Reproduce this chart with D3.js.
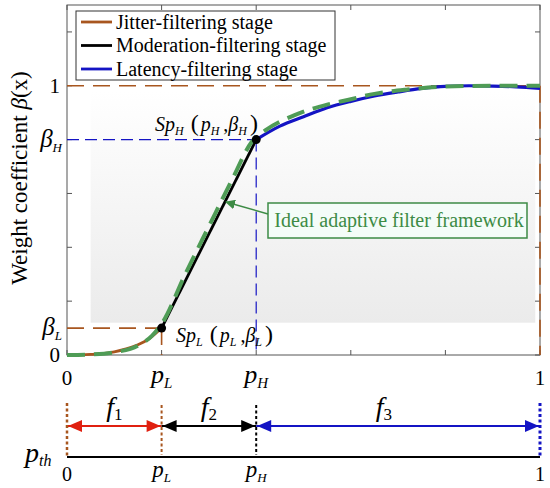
<!DOCTYPE html>
<html><head><meta charset="utf-8">
<script src="https://cdn.jsdelivr.net/npm/d3@7"></script>
<style>body{margin:0;background:#fff}svg{display:block}</style>
</head><body><svg id="c" width="550" height="488"></svg>
<script>
// ---- data ----
const pL = 0.2, pH = 0.4, betaL = 0.1, betaH = 0.8;
const jitterX = [0, 0.025, 0.05, 0.075, 0.1, 0.125, 0.15, 0.175, 0.2];
const jitterY = [0, 0.0005, 0.002, 0.005, 0.012, 0.023, 0.038, 0.062, 0.1];
const moderationX = [0.2, 0.4];
const moderationY = [0.1, 0.8];
const latencyX = [0.4, 0.45, 0.5, 0.55, 0.6, 0.65, 0.7, 0.75, 0.8, 0.85, 0.9, 0.95, 1.0];
const latencyY = [0.8, 0.85, 0.885, 0.918, 0.942, 0.962, 0.977, 0.99, 0.998, 1.0, 0.999, 0.996, 0.99];
const idealX = [0, 0.05, 0.1, 0.15, 0.18, 0.2, 0.25, 0.3, 0.35, 0.39, 0.42, 0.48, 0.55, 0.6, 0.65, 0.72, 0.8, 0.9, 1.0];
const idealY = [0, 0.002, 0.01, 0.035, 0.072, 0.115, 0.3, 0.478, 0.655, 0.79, 0.835, 0.89, 0.93, 0.95, 0.97, 0.986, 0.997, 1.0, 1.0];
const yTicks = [0, 0.2, 0.4, 0.6, 0.8, 1.0, 1.2];
const xTicks = [0, 0.2, 0.4, 0.6, 0.8, 1.0];
const legendNames = ["Jitter-filtering stage", "Moderation-filtering stage", "Latency-filtering stage"];

const brown = "#a8561f", blue = "#1414c4", green = "#4f9c56", red = "#e02010";
const svg = d3.select("#c");
const x = d3.scaleLinear().domain([0, 1]).range([67, 540]);
const y = d3.scaleLinear().domain([0, 1.3]).range([355, 5]);

// gradient background
const defs = svg.append("defs");
const gr = defs.append("linearGradient").attr("id", "g").attr("x1", 0).attr("y1", 0).attr("x2", 0).attr("y2", 1);
gr.append("stop").attr("offset", "0%").attr("stop-color", "#ffffff");
gr.append("stop").attr("offset", "100%").attr("stop-color", "#ebebeb");
svg.append("rect").attr("x", x(0.05)).attr("y", y(0.98)).attr("width", x(0.99) - x(0.05)).attr("height", y(0.12) - y(0.98)).attr("fill", "url(#g)");

// frame & ticks
svg.append("rect").attr("x", x(0)).attr("y", y(1.3)).attr("width", x(1) - x(0)).attr("height", y(0) - y(1.3)).attr("fill", "none").attr("stroke", "#555").attr("stroke-width", 1);
const tk = svg.append("g").attr("stroke", "#555").attr("stroke-width", 1);
xTicks.forEach(t => {
  tk.append("line").attr("x1", x(t)).attr("x2", x(t)).attr("y1", y(0)).attr("y2", y(0) - 5);
  tk.append("line").attr("x1", x(t)).attr("x2", x(t)).attr("y1", y(1.3)).attr("y2", y(1.3) + 5);
});
yTicks.forEach(t => {
  tk.append("line").attr("x1", x(0)).attr("x2", x(0) + 5).attr("y1", y(t)).attr("y2", y(t));
  tk.append("line").attr("x1", x(1)).attr("x2", x(1) - 5).attr("y1", y(t)).attr("y2", y(t));
});

// reference dashed lines
const dl = (x1, y1, x2, y2, c, w, da) => svg.append("line").attr("x1", x(x1)).attr("y1", y(y1)).attr("x2", x(x2)).attr("y2", y(y2)).attr("stroke", c).attr("stroke-width", w).attr("stroke-dasharray", da);
dl(0, 1, 1, 1, brown, 1.6, "17,9");
dl(1, 1, 1, 0, brown, 1.6, "17,9");
dl(0, betaL, pL, betaL, brown, 1.6, "17,9");
dl(pL, betaL, pL, 0, brown, 1.6, "17,9");
dl(0, betaH, pH, betaH, blue, 1.2, "12,6");
dl(pH, betaH, pH, 0, blue, 1.2, "12,6");

// curves
const line = d3.line().x(d => x(d[0])).y(d => y(d[1])).curve(d3.curveMonotoneX);
const zip = (a, b) => a.map((v, i) => [v, b[i]]);
svg.append("path").attr("d", line(zip(jitterX, jitterY))).attr("fill", "none").attr("stroke", brown).attr("stroke-width", 2.8);
svg.append("path").attr("d", line(zip(moderationX, moderationY))).attr("fill", "none").attr("stroke", "#000").attr("stroke-width", 2.8);
svg.append("path").attr("d", line(zip(latencyX, latencyY))).attr("fill", "none").attr("stroke", blue).attr("stroke-width", 3.2);
svg.append("path").attr("d", line(zip(idealX, idealY))).attr("fill", "none").attr("stroke", green).attr("stroke-width", 4).attr("stroke-dasharray", "18,9");

// points
[[pL, betaL], [pH, betaH]].forEach(p => svg.append("circle").attr("cx", x(p[0])).attr("cy", y(p[1])).attr("r", 4.5).attr("fill", "#000"));

// point labels
function spLabel(px, py, sub) {
  const t = svg.append("text").attr("x", px).attr("y", py).attr("font-size", 20).attr("fill", "#000");
  t.append("tspan").attr("font-style", "italic").text("Sp");
  t.append("tspan").attr("font-style", "italic").attr("font-size", 12).attr("dy", 4).text(sub);
  t.append("tspan").attr("dy", -4).attr("dx", 7).attr("font-size", 24).text("(");
  t.append("tspan").attr("font-style", "italic").attr("dx", 2).text("p");
  t.append("tspan").attr("font-style", "italic").attr("font-size", 12).attr("dy", 4).text(sub);
  t.append("tspan").attr("dy", -4).attr("dx", 4).text(",");
  t.append("tspan").attr("font-style", "italic").text("β");
  t.append("tspan").attr("font-style", "italic").attr("font-size", 12).attr("dy", 4).text(sub);
  t.append("tspan").attr("dy", -4).attr("dx", 3).attr("font-size", 24).text(")");
}
spLabel(155, 131, "H");
spLabel(176, 342, "L");

// legend
svg.append("rect").attr("x", 76).attr("y", 11).attr("width", 259).attr("height", 69).attr("fill", "#fff").attr("stroke", "#333").attr("stroke-width", 1);
const lc = [brown, "#000", blue];
legendNames.forEach((n, i) => {
  const ly = 22 + i * 23.5;
  svg.append("line").attr("x1", 81).attr("x2", 112).attr("y1", ly).attr("y2", ly).attr("stroke", lc[i]).attr("stroke-width", 2.8);
  svg.append("text").attr("x", 116).attr("y", ly + 6.5).attr("font-size", 20).attr("fill", "#000").text(n);
});

// annotation
defs.append("marker").attr("id", "ga").attr("viewBox", "0 0 10 10").attr("refX", 9).attr("refY", 5).attr("markerWidth", 10).attr("markerHeight", 10).attr("markerUnits", "userSpaceOnUse").attr("orient", "auto")
  .append("path").attr("d", "M0,0L10,5L0,10z").attr("fill", "#3d8b45");
svg.append("line").attr("x1", 268).attr("y1", 214).attr("x2", 226).attr("y2", 202).attr("stroke", "#3d8b45").attr("stroke-width", 1.5).attr("marker-end", "url(#ga)");
svg.append("rect").attr("x", 268).attr("y", 203).attr("width", 259).attr("height", 35).attr("fill", "#f4fcf8").attr("stroke", "#3d8b45").attr("stroke-width", 1.5);
svg.append("text").attr("x", 399).attr("y", 227).attr("text-anchor", "middle").attr("font-size", 20).attr("fill", "#3d8b45").text("Ideal adaptive filter framework");

// y axis label
const yl = svg.append("text").attr("transform", "translate(27,178) rotate(-90)").attr("text-anchor", "middle").attr("font-size", 23).attr("fill", "#000");
yl.append("tspan").text("Weight coefficient ");
yl.append("tspan").attr("font-style", "italic").text("β");
yl.append("tspan").text("(x)");

// y tick labels
const yLab = (v, main, sub) => {
  const t = svg.append("text").attr("x", 60).attr("y", y(v) + 7).attr("text-anchor", "end").attr("font-size", 21).attr("fill", "#000");
  if (sub) {
    t.attr("x", 62);
    t.append("tspan").attr("font-style", "italic").attr("font-size", 25).text(main);
    t.append("tspan").attr("font-style", "italic").attr("font-size", 13).attr("dy", 5).text(sub);
  } else t.text(main);
};
yLab(0, "0"); yLab(1, "1"); yLab(betaH, "β", "H"); yLab(betaL, "β", "L");

// x tick labels
const xLab = (v, main, sub, yy, fs, ss) => {
  const t = svg.append("text").attr("x", x(v)).attr("y", yy).attr("text-anchor", "middle").attr("font-size", fs).attr("fill", "#000");
  if (sub) {
    t.append("tspan").attr("font-style", "italic").text(main);
    t.append("tspan").attr("font-style", "italic").attr("font-size", ss).attr("dy", 5).text(sub);
  } else t.text(main);
};
xLab(0, "0", null, 385, 21); xLab(1, "1", null, 385, 21);
xLab(pL, "p", "L", 383, 26, 15); xLab(pH, "p", "H", 383, 26, 15);

// bottom section
const ay = 426;
function arrowHead(xp, dir, c) {
  svg.append("path").attr("d", `M${xp},${ay}L${xp - dir * 14},${ay - 6}L${xp - dir * 14},${ay + 6}Z`).attr("fill", c);
}
const seg = (a, b, c) => {
  svg.append("line").attr("x1", x(a)).attr("x2", x(b)).attr("y1", ay).attr("y2", ay).attr("stroke", c).attr("stroke-width", 2);
  arrowHead(x(a) + 1, -1, c); arrowHead(x(b) - 1, 1, c);
};
seg(0, pL, red); seg(pL, pH, "#000"); seg(pH, 1, blue);
const vd = (v, c, w, y1, y2) => svg.append("line").attr("x1", x(v)).attr("x2", x(v)).attr("y1", y1).attr("y2", y2).attr("stroke", c).attr("stroke-width", w).attr("stroke-dasharray", "3,2.5");
vd(0, brown, 2.5, 403, 456); vd(pL, brown, 2, 405, 455); vd(pH, "#000", 2, 405, 455); vd(1, blue, 3, 403, 456);
svg.append("line").attr("x1", x(0)).attr("x2", x(1)).attr("y1", 457).attr("y2", 457).attr("stroke", "#000").attr("stroke-width", 2);
const fLab = (cx, n) => {
  const t = svg.append("text").attr("x", cx).attr("y", 416).attr("text-anchor", "middle").attr("font-size", 28).attr("fill", "#000");
  t.append("tspan").attr("font-style", "italic").text("f");
  t.append("tspan").attr("font-size", 17).attr("dy", 4).text(n);
};
fLab(x(0.1), "1"); fLab(x(0.3), "2"); fLab(x(0.67), "3");
xLab(0, "0", null, 481, 20); xLab(1, "1", null, 481, 20);
xLab(pL, "p", "L", 477, 23, 13); xLab(pH, "p", "H", 477, 23, 13);
const pth = svg.append("text").attr("x", 25).attr("y", 462).attr("font-size", 28).attr("fill", "#000");
pth.append("tspan").attr("font-style", "italic").text("p");
pth.append("tspan").attr("font-style", "italic").attr("font-size", 16).attr("dy", 4).text("th");

svg.selectAll("text").style("font-family", '"Liberation Serif"');
</script></body></html>
